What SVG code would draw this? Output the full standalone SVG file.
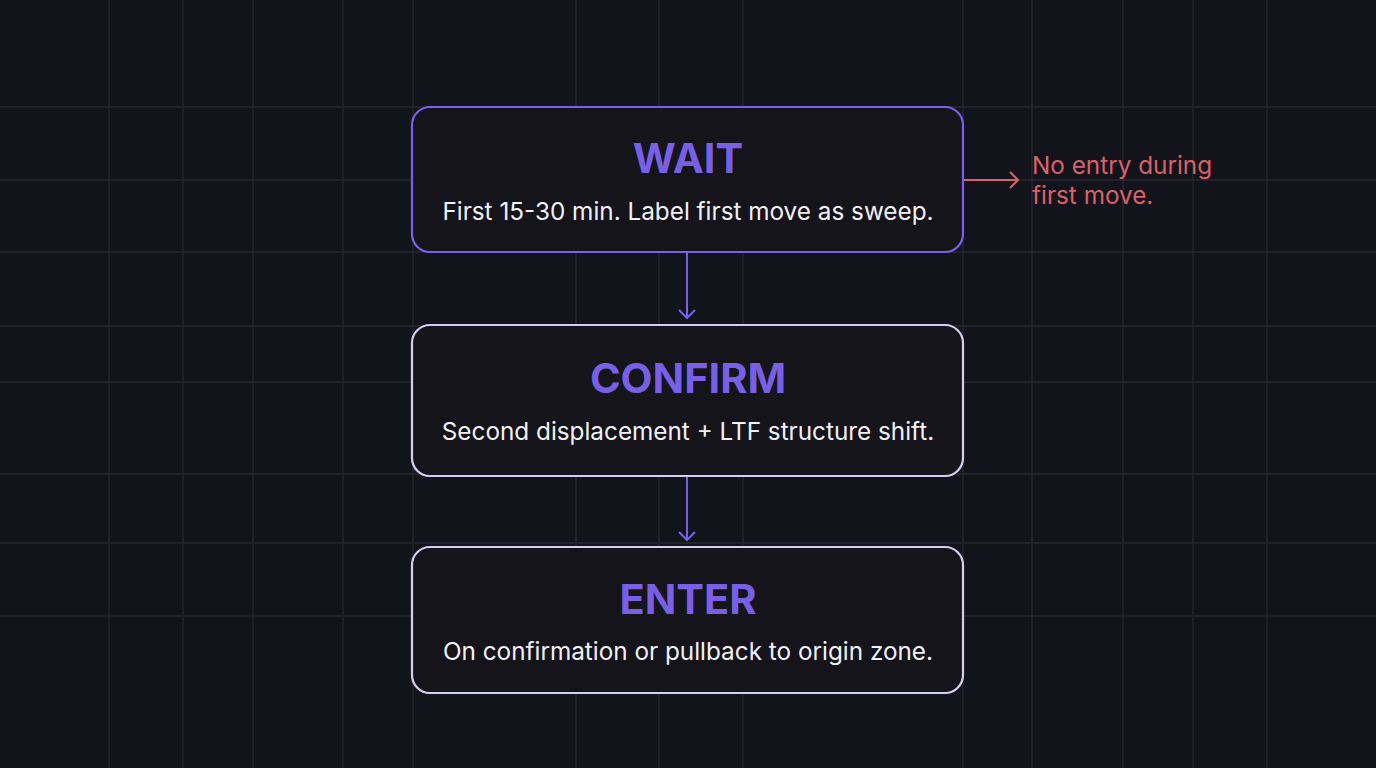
<svg xmlns="http://www.w3.org/2000/svg" width="1376" height="768" viewBox="0 0 1376 768">
<style>
.grid line{stroke:#272731;stroke-width:1.3}
.box{fill:#14141a;stroke-width:2.2}
.t{font-family:Inter,"Liberation Sans",sans-serif;font-weight:700;font-size:41.5px;fill:#7860e4;text-anchor:middle}
.s{font-family:Inter,"Liberation Sans",sans-serif;font-size:24.3px;fill:#f2f0f8;text-anchor:middle}
.n{font-family:Inter,"Liberation Sans",sans-serif;font-size:24.3px;fill:#d9616a}
</style>
<defs>
<marker id="ap" markerWidth="20" markerHeight="20" refX="10" refY="10" orient="auto" markerUnits="userSpaceOnUse"><path d="M2 2 L10 10 L2 18" fill="none" stroke="#7a60e6" stroke-width="2"/></marker>
<marker id="ar" markerWidth="20" markerHeight="20" refX="10" refY="10" orient="auto" markerUnits="userSpaceOnUse"><path d="M2 2 L10 10 L2 18" fill="none" stroke="#d9616a" stroke-width="2"/></marker>
</defs>
<rect width="1376" height="768" fill="#13141b"/>
<g class="grid">
<line x1="109" y1="0" x2="109" y2="768"/><line x1="183" y1="0" x2="183" y2="768"/><line x1="253" y1="0" x2="253" y2="768"/><line x1="343" y1="0" x2="343" y2="768"/><line x1="413" y1="0" x2="413" y2="768"/><line x1="576" y1="0" x2="576" y2="768"/><line x1="659" y1="0" x2="659" y2="768"/><line x1="743" y1="0" x2="743" y2="768"/><line x1="963" y1="0" x2="963" y2="768"/><line x1="1032" y1="0" x2="1032" y2="768"/><line x1="1123" y1="0" x2="1123" y2="768"/><line x1="1193" y1="0" x2="1193" y2="768"/><line x1="1267" y1="0" x2="1267" y2="768"/>
<line x1="0" y1="107" x2="1376" y2="107"/><line x1="0" y1="180" x2="1376" y2="180"/><line x1="0" y1="252" x2="1376" y2="252"/><line x1="0" y1="326" x2="1376" y2="326"/><line x1="0" y1="382" x2="1376" y2="382"/><line x1="0" y1="474" x2="1376" y2="474"/><line x1="0" y1="543" x2="1376" y2="543"/><line x1="0" y1="616" x2="1376" y2="616"/>
</g>
<g id="connectors">
<line x1="687" y1="253" x2="687" y2="318" stroke="#7a60e6" stroke-width="2" marker-end="url(#ap)"/>
<line x1="687" y1="477" x2="687" y2="540" stroke="#7a60e6" stroke-width="2" marker-end="url(#ap)"/>
<line x1="964" y1="180" x2="1018" y2="180" stroke="#d9616a" stroke-width="2" marker-end="url(#ar)"/>
</g>
<g id="wait">
<rect class="box" x="412" y="107" width="551" height="145" rx="18" stroke="#7a60e6"/>
<text class="t" x="688" y="173">WAIT</text>
<text class="s" x="688" y="220">First 15-30 min. Label first move as sweep.</text>
</g>
<g id="confirm">
<rect class="box" x="412" y="325" width="551" height="151" rx="18" stroke="#d6cdf0"/>
<text class="t" x="688" y="393">CONFIRM</text>
<text class="s" x="688" y="440">Second displacement + LTF structure shift.</text>
</g>
<g id="enter">
<rect class="box" x="412" y="547" width="551" height="146" rx="18" stroke="#d6cdf0"/>
<text class="t" x="688" y="614">ENTER</text>
<text class="s" x="688" y="660">On confirmation or pullback to origin zone.</text>
</g>
<g id="note">
<text class="n" x="1032" y="174">No entry during</text>
<text class="n" x="1032" y="204">first move.</text>
</g>
</svg>
